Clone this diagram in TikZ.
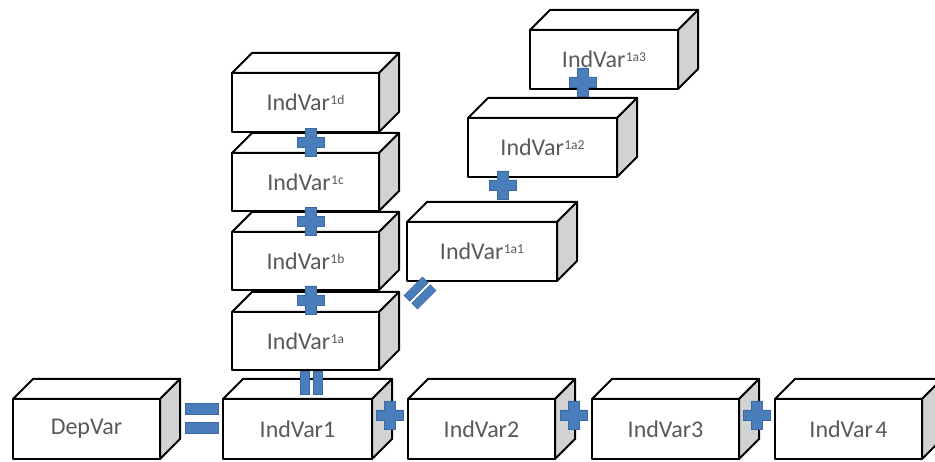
\documentclass[tikz,border=0pt]{standalone}
\usepackage{fontspec}
\setmainfont{Carlito}
\usetikzlibrary{calc}
\definecolor{txtgray}{HTML}{595959}
\definecolor{sidegray}{HTML}{D2D2D2}
\definecolor{markblue}{HTML}{4A7EBB}
\definecolor{markdark}{HTML}{3A69A3}
\newcommand\vsup[1]{\kern0.5pt\raisebox{6pt}{\fontsize{13.5}{13.5}\selectfont #1}}
\newcommand\cubefaces[1]{%
  \draw[boxedge, fill=white] (#1.north west) -- ++(20,-20) -- ($(#1.north east)+(20,-20)$) -- (#1.north east) -- cycle;
  \draw[boxedge, fill=sidegray] (#1.north east) -- ++(20,-20) -- ($(#1.south east)+(20,-20)$) -- (#1.south east) -- cycle;}
\tikzset{
  boxedge/.style={draw=black, line width=2pt, line join=round},
  boxfront/.style={boxedge, fill=white, minimum width=147pt, minimum height=59pt,
    inner sep=0pt, outer sep=0pt, font=\fontsize{24}{28}\selectfont, text=txtgray},
  markstyle/.style={fill=markblue, draw=markdark, line width=0.6pt},
  plusmark/.pic={\path[markstyle] (-5.5,-14) -- (5.5,-14) -- (5.5,-5) -- (13.5,-5) -- (13.5,5) -- (5.5,5)
      -- (5.5,14) -- (-5.5,14) -- (-5.5,5) -- (-13.5,5) -- (-13.5,-5) -- (-5.5,-5) -- cycle;},
  eqmark/.pic={\path[markstyle] (-16.5,-15) rectangle (16.5,-4);
               \path[markstyle] (-16.5,4) rectangle (16.5,15);},
  veqmark/.pic={\path[markstyle] (-11,-11.5) rectangle (-2,11.5);
                \path[markstyle] (2,-11.5) rectangle (11,11.5);},
  teqmark/.pic={\begin{scope}[rotate=45]
                \path[markstyle] (-13,-9.5) rectangle (13,-1.5);
                \path[markstyle] (-13,1.5) rectangle (13,9.5);
                \end{scope}},
}
\begin{document}
\begin{tikzpicture}[x=1pt,y=-1pt]
\useasboundingbox[fill=white] (0,0) rectangle (935,462);
% bottom row
\node[boxfront, minimum height=60pt] (dep) at (86.5,429) {DepVar};
\cubefaces{dep}
\node[boxfront, minimum height=60pt, minimum width=149pt] (i1) at (297.5,429) {IndVar1};
\cubefaces{i1}
\node[boxfront, minimum height=60pt] (i2) at (481.5,429) {IndVar2};
\cubefaces{i2}
\node[boxfront, minimum height=60pt] (i3) at (665.5,429) {IndVar3};
\cubefaces{i3}
\node[boxfront, minimum height=60pt] (i4) at (848.5,429) {IndVar\kern2.5pt 4};
\cubefaces{i4}
% vertical stack
\node[boxfront, minimum height=58pt] (a1) at (305.5,341) {IndVar\vsup{1a}};
\cubefaces{a1}
\node[boxfront, minimum height=58pt] (b1) at (305.5,261) {IndVar\vsup{1b}};
\cubefaces{b1}
\node[boxfront, minimum height=58pt] (c1) at (305.5,182) {IndVar\vsup{1c}};
\cubefaces{c1}
\node[boxfront, minimum height=59pt] (d1) at (305.5,102.5) {IndVar\vsup{1d}};
\cubefaces{d1}
% diagonal chain
\node[boxfront, minimum width=150pt] (aa1) at (482,251.5) {IndVar\vsup{1a1}};
\cubefaces{aa1}
\node[boxfront, minimum width=149pt] (aa2) at (542.5,147.5) {IndVar\vsup{1a2}};
\cubefaces{aa2}
\node[boxfront, minimum width=148pt] (aa3) at (604,59.5) {IndVar\vsup{1a3}};
\cubefaces{aa3}
% marks
\pic at ($(dep.east)!0.5!(i1.west)+(10,-11)$) {eqmark};
\pic at ($(i1.east)!0.5!(i2.west)+(0,-14)$) {plusmark};
\pic at ($(i2.east)!0.5!(i3.west)+(0,-14)$) {plusmark};
\pic at ($(i3.east)!0.5!(i4.west)+(0,-14)$) {plusmark};
\pic at ($(a1.south)+(5.5,13)$) {veqmark};
\pic at ($(a1.north)!0.5!(b1.south)+(5.5,-1)$) {plusmark};
\pic at ($(b1.north)!0.5!(c1.south)+(5,0)$) {plusmark};
\pic at ($(c1.north)!0.5!(d1.south)+(5,0)$) {plusmark};
\pic at ($(aa1.south west)+(13,12)$) {teqmark};
\pic at ($(aa2.south west)+(35,8)$) {plusmark};
\pic at ($(aa3.south west)+(53,-7)$) {plusmark};
\end{tikzpicture}
\end{document}
